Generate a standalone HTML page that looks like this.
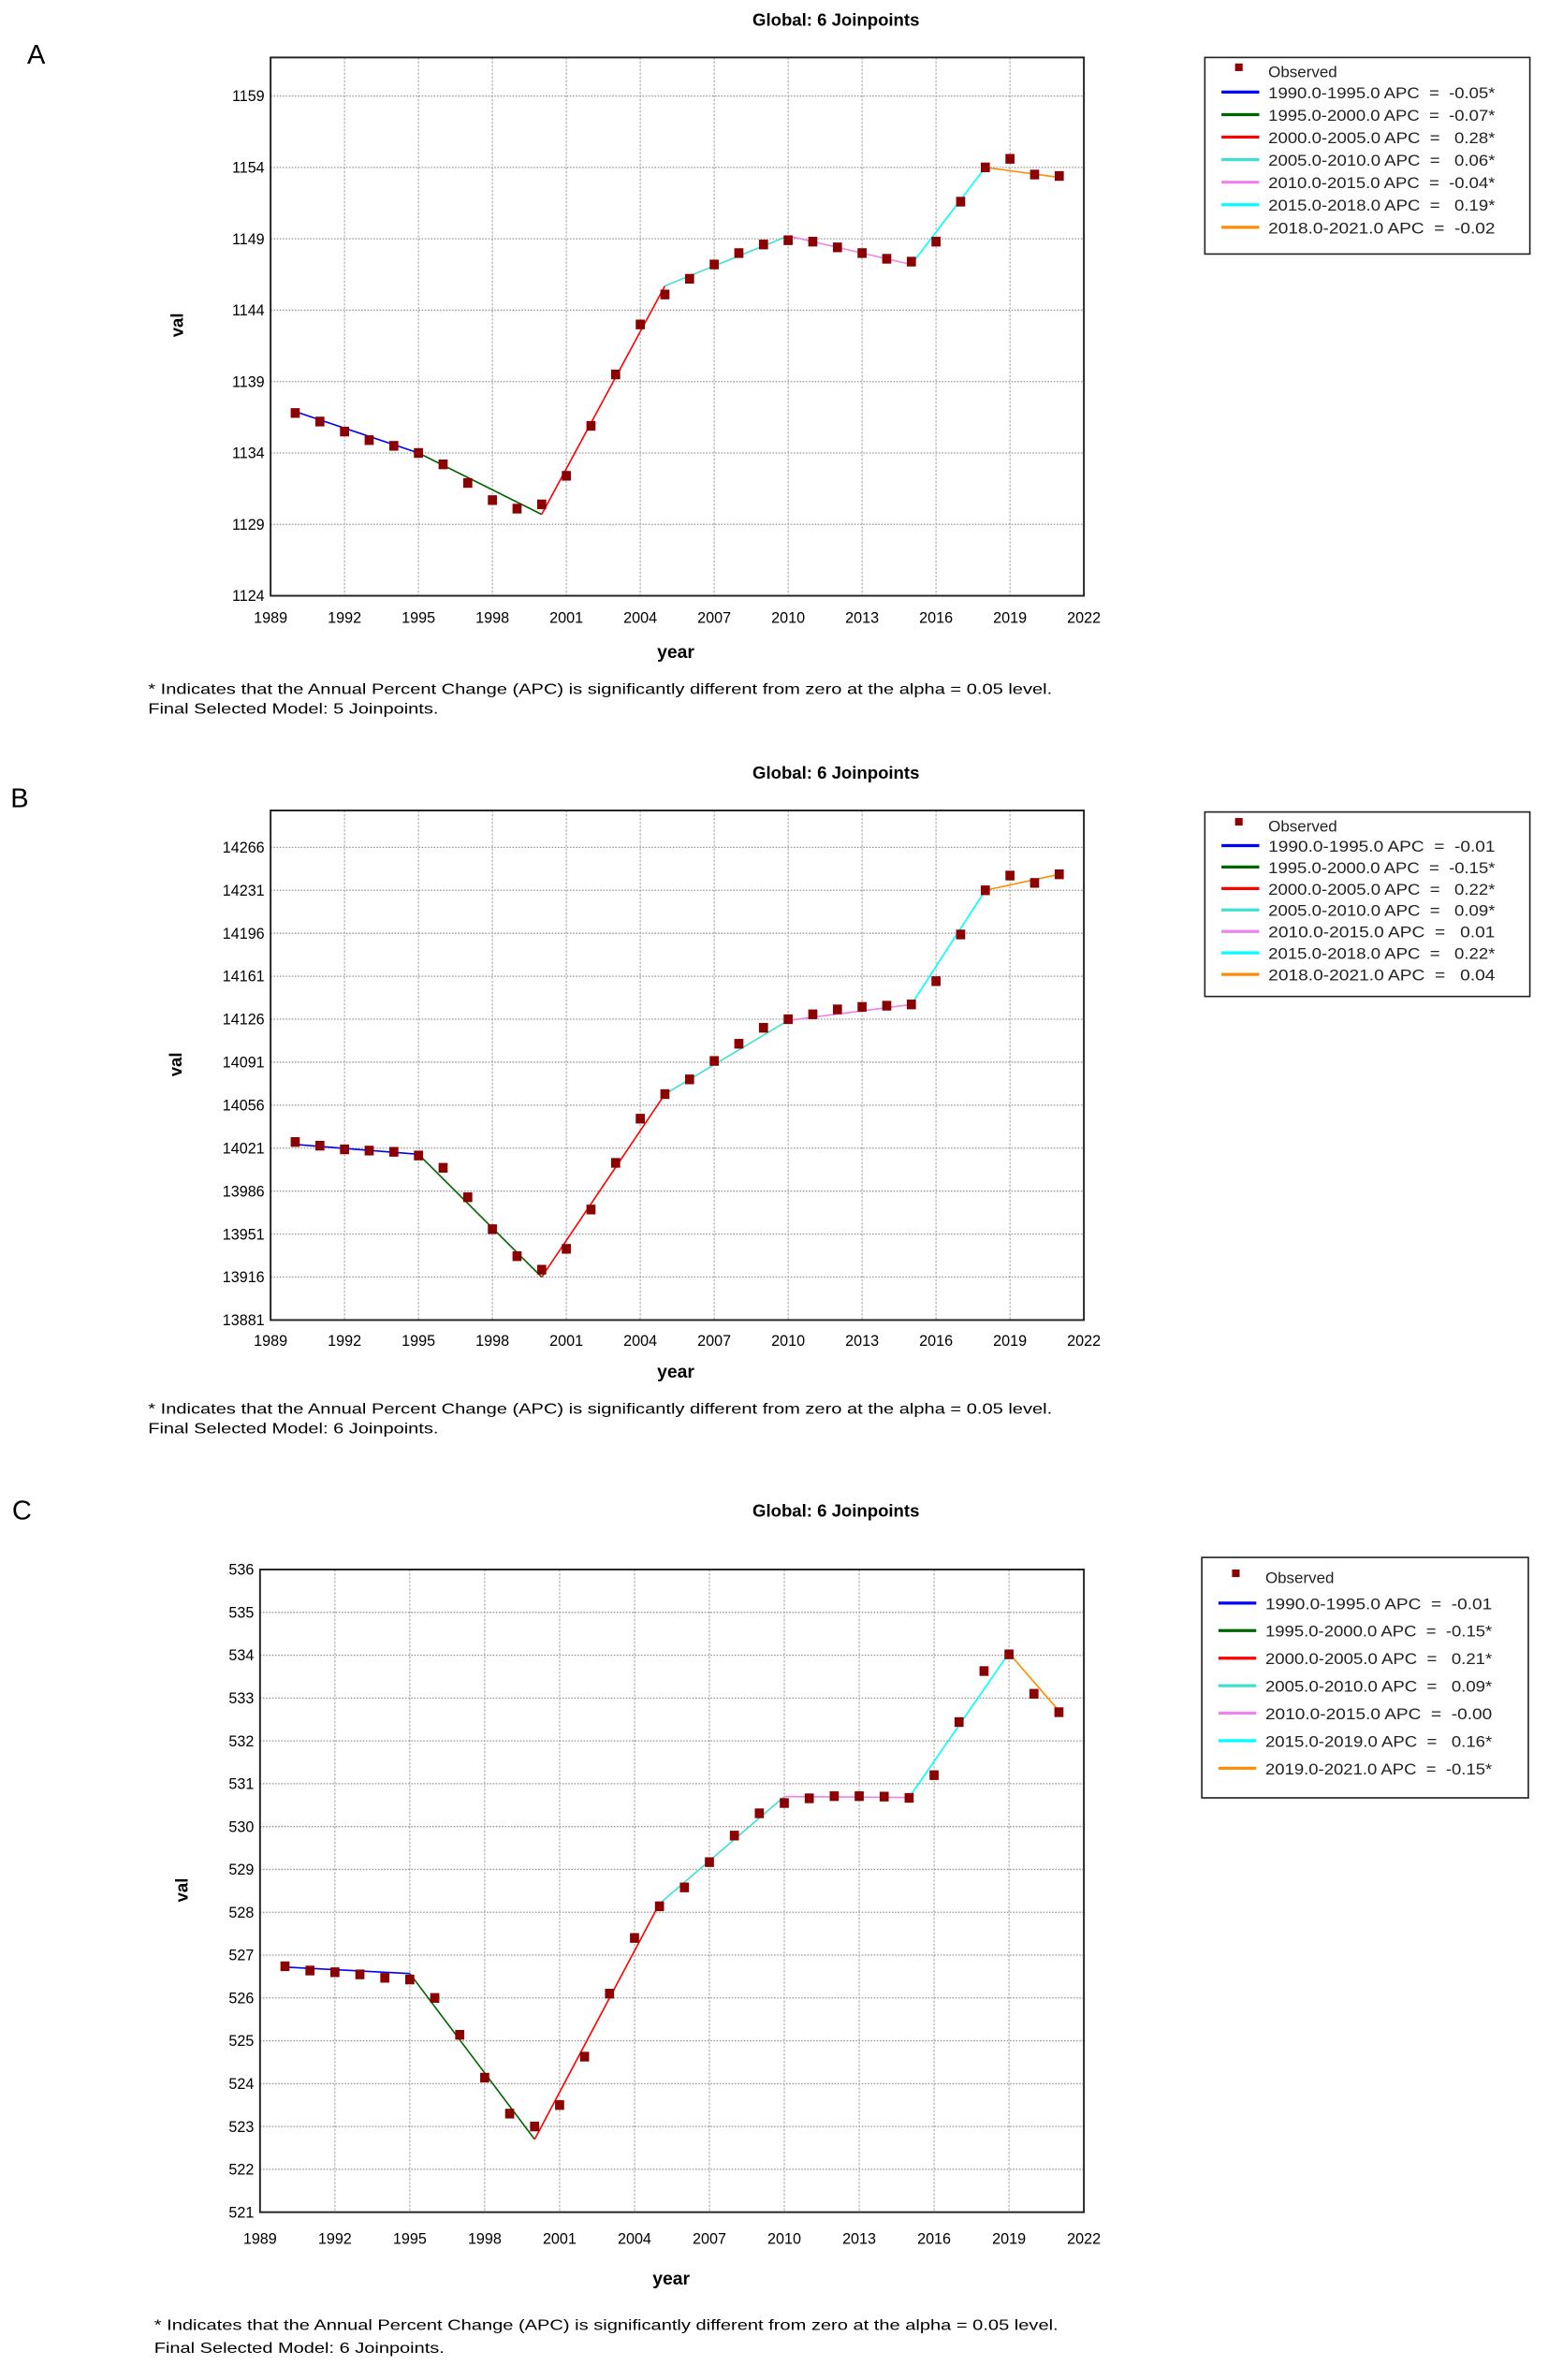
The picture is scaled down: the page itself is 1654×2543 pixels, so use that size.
<!DOCTYPE html>
<html><head><meta charset="utf-8"><title>Joinpoint charts</title>
<style>
html,body{margin:0;padding:0;background:#fff;}
svg{display:block;}
text{font-family:"Liberation Sans",sans-serif;}
text.lgt{white-space:pre;}
</style></head>
<body>
<svg id="fig" width="1654" height="2543" viewBox="0 0 1024 1574" preserveAspectRatio="none" xmlns="http://www.w3.org/2000/svg"></svg>
<script>
// ---------- Panel A data ----------
const yearsObs = [1990,1991,1992,1993,1994,1995,1996,1997,1998,1999,2000,2001,2002,2003,2004,2005,2006,2007,2008,2009,2010,2011,2012,2013,2014,2015,2016,2017,2018,2019,2020,2021];
const xTicks = [1989,1992,1995,1998,2001,2004,2007,2010,2013,2016,2019,2022];
const aObserved = [1136.8,1136.2,1135.5,1134.9,1134.5,1134.0,1133.2,1131.9,1130.7,1130.1,1130.4,1132.4,1135.9,1139.5,1143.0,1145.1,1146.2,1147.2,1148.0,1148.6,1148.9,1148.8,1148.4,1148.0,1147.6,1147.4,1148.8,1151.6,1154.0,1154.6,1153.5,1153.4];
const aJoinYears = [1990,1995,2000,2005,2010,2015,2018,2021];
const aJoinVals = [1136.9,1134.0,1129.7,1145.7,1149.2,1147.2,1154.0,1153.3];
const aYTicks = [1124,1129,1134,1139,1144,1149,1154,1159];
const aLegend = ["1990.0-1995.0 APC  =  -0.05*","1995.0-2000.0 APC  =  -0.07*","2000.0-2005.0 APC  =   0.28*","2005.0-2010.0 APC  =   0.06*","2010.0-2015.0 APC  =  -0.04*","2015.0-2018.0 APC  =   0.19*","2018.0-2021.0 APC  =  -0.02"];
// ---------- Panel B data ----------
const bObserved = [14026,14023,14020,14019,14018,14015,14005,13981,13955,13933,13922,13939,13971,14009,14045,14065,14077,14092,14106,14119,14126,14130,14134,14136,14137,14138,14157,14195,14231,14243,14237,14244];
const bJoinYears = [1990,1995,2000,2005,2010,2015,2018,2021];
const bJoinVals = [14024,14016,13916,14065,14125,14138,14231,14244];
const bYTicks = [13881,13916,13951,13986,14021,14056,14091,14126,14161,14196,14231,14266];
const bLegend = ["1990.0-1995.0 APC  =  -0.01","1995.0-2000.0 APC  =  -0.15*","2000.0-2005.0 APC  =   0.22*","2005.0-2010.0 APC  =   0.09*","2010.0-2015.0 APC  =   0.01","2015.0-2018.0 APC  =   0.22*","2018.0-2021.0 APC  =   0.04"];
// ---------- Panel C data ----------
const cObserved = [526.74,526.64,526.60,526.55,526.47,526.43,526.0,525.14,524.14,523.30,523.0,523.5,524.63,526.1,527.4,528.14,528.58,529.17,529.79,530.31,530.55,530.66,530.71,530.71,530.70,530.67,531.2,532.44,533.63,534.02,533.1,532.67];
const cJoinYears = [1990,1995,2000,2005,2010,2015,2019,2021];
const cJoinVals = [526.72,526.57,522.7,528.2,530.7,530.68,534.05,532.7];
const cYTicks = [521,522,523,524,525,526,527,528,529,530,531,532,533,534,535,536];
const cLegend = ["1990.0-1995.0 APC  =  -0.01","1995.0-2000.0 APC  =  -0.15*","2000.0-2005.0 APC  =   0.21*","2005.0-2010.0 APC  =   0.09*","2010.0-2015.0 APC  =  -0.00","2015.0-2019.0 APC  =   0.16*","2019.0-2021.0 APC  =  -0.15*"];

const segColors = ["#0000ff","#006400","#ff0000","#40e0d0","#ee82ee","#00ffff","#ff8c00"];
const NS = "http://www.w3.org/2000/svg";
const fig = document.getElementById('fig');
function mk(tag, attrs, parent){const e=document.createElementNS(NS,tag);for(const k in attrs)e.setAttribute(k,attrs[k]);(parent||fig).appendChild(e);return e;}

function panel(cfg){
  const g = mk('g',{});
  
  
  const L=cfg.left,R=cfg.right,T=cfg.top,B=cfg.bottom;
  const xs = v => L + (v-1989)/(2022-1989)*(R-L);
  const ys = v => B - (v-cfg.ymin)/(cfg.ymax-cfg.ymin)*(B-T);
  const lab = mk('text',{x:cfg.labX,y:cfg.labY,'font-size':18,fill:'#000'},g); lab.textContent=cfg.id;
  
  
  const title = mk('text',{x:553,y:cfg.titleY,'font-size':11.5,'font-weight':'bold','text-anchor':'middle',fill:'#000'},g); title.textContent='Global: 6 Joinpoints';
  
  
  mk('rect',{x:L,y:T,width:R-L,height:B-T,fill:'#fff'},g);
  xTicks.forEach(t=>{
    const x=xs(t);
    if(t>1989&&t<2022) mk('line',{x1:x,y1:T,x2:x,y2:B,stroke:'#aaa','stroke-width':0.7,'stroke-dasharray':'1.5,1'},g);
    const tl=mk('text',{x:x,y:cfg.xLabY,'font-size':10,'text-anchor':'middle',fill:'#000'},g); tl.textContent=t;
    
    
  });
  cfg.yTicks.forEach(t=>{
    const y=ys(t);
    if(t>cfg.ymin) mk('line',{x1:L,y1:y,x2:R,y2:y,stroke:'#999','stroke-width':0.8,'stroke-dasharray':'1,1'},g);
    const tl=mk('text',{x:L-4,y:y+3.5,'font-size':10,'text-anchor':'end',fill:'#000'},g); tl.textContent=t;
    
    
  });
  const frame=mk('rect',{x:L,y:T,width:R-L,height:B-T,fill:'none',stroke:'#222','stroke-width':1.2},g);
  
  
  for(let i=0;i<cfg.jy.length-1;i++){
    const s=mk('line',{x1:xs(cfg.jy[i]),y1:ys(cfg.jv[i]),x2:xs(cfg.jy[i+1]),y2:ys(cfg.jv[i+1]),stroke:segColors[i],'stroke-width':1},g);
    
    
  }
  cfg.obs.forEach((v,i)=>{
    const p=mk('rect',{x:xs(yearsObs[i])-3,y:ys(v)-3.2,width:6,height:6.4,fill:'#8b0000'},g);
    
    
  });
  const yt=mk('text',{x:0,y:0,'font-size':11.5,'font-weight':'bold','text-anchor':'middle',transform:`translate(${cfg.valX},${cfg.valY}) rotate(-90)`},g); yt.textContent='val';
  
  
  const xt=mk('text',{x:cfg.yearX,y:cfg.yearY,'font-size':12,'font-weight':'bold','text-anchor':'middle'},g); xt.textContent='year';
  
  
  const f1=mk('text',{x:cfg.footX,y:cfg.footY,'font-size':9.5,textLength:598,lengthAdjust:'spacingAndGlyphs'},g);
  f1.textContent='* Indicates that the Annual Percent Change (APC) is significantly different from zero at the alpha = 0.05 level.';
  
  
  const f2=mk('text',{x:cfg.footX,y:cfg.footY+cfg.footGap,'font-size':9.5,textLength:192,lengthAdjust:'spacingAndGlyphs'},g);
  f2.textContent='Final Selected Model: '+cfg.model+' Joinpoints.';
  
  
  const lg=mk('g',{},g);
  
  
  mk('rect',{x:cfg.lgX,y:cfg.lgY,width:cfg.lgW,height:cfg.lgH,fill:'#fff',stroke:'#222','stroke-width':1},lg);
  const r0=cfg.lgY+cfg.lgFirst;
  mk('rect',{x:cfg.lgX+20,y:r0-8,width:5,height:5,fill:'#8b0000'},lg);
  const ot=mk('text',{x:cfg.lgX+42,y:r0+1,'font-size':10.5,fill:'#222'},lg); ot.textContent='Observed';
  
  
  cfg.legend.forEach((s,i)=>{
    const y=r0+(i+1)*cfg.lgStep;
    mk('line',{x1:cfg.lgX+11,y1:y-4,x2:cfg.lgX+36,y2:y-4,stroke:segColors[i],'stroke-width':2},lg);
    const t=mk('text',{x:cfg.lgX+42,y:y,'font-size':10.5,fill:'#222','class':'lgt',textLength:150,lengthAdjust:'spacingAndGlyphs'},lg);
    t.textContent=s;
    
    
  });
}

panel({id:'A',left:179,right:717,top:38,bottom:394,ymin:1124,ymax:1161.7,yTicks:aYTicks,obs:aObserved,jy:aJoinYears,jv:aJoinVals,legend:aLegend,
  labX:18,labY:42,titleY:17,xLabY:412,valX:121,valY:215,yearX:447,yearY:435,footX:98,footY:459,footGap:13,model:'5',
  lgX:797,lgY:38,lgW:215,lgH:130,lgFirst:12,lgStep:14.9});
panel({id:'B',left:179,right:717,top:536,bottom:873,ymin:13881,ymax:14296,yTicks:bYTicks,obs:bObserved,jy:bJoinYears,jv:bJoinVals,legend:bLegend,
  labX:7,labY:534,titleY:515,xLabY:890,valX:120,valY:704,yearX:447,yearY:911,footX:98,footY:935,footGap:13,model:'6',
  lgX:797,lgY:537,lgW:215,lgH:122,lgFirst:12,lgStep:14.2});
panel({id:'C',left:172,right:717,top:1038,bottom:1463,ymin:521,ymax:536,yTicks:cYTicks,obs:cObserved,jy:cJoinYears,jv:cJoinVals,legend:cLegend,
  labX:8,labY:1005,titleY:1003,xLabY:1484,valX:124,valY:1250,yearX:444,yearY:1511,footX:102,footY:1541,footGap:15,model:'6',
  lgX:795,lgY:1030,lgW:216,lgH:159,lgFirst:16,lgStep:18.2});
</script>
</body></html>
